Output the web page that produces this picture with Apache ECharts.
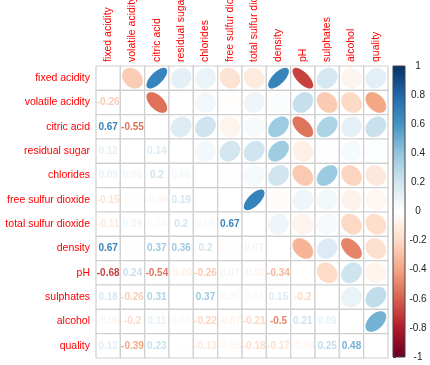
<!DOCTYPE html>
<html>
<head>
<meta charset="utf-8">
<script src="https://cdn.jsdelivr.net/npm/echarts@6/dist/echarts.min.js"></script>
<style>
  html, body { margin: 0; padding: 0; background: #fff; }
  #chart { width: 430px; height: 365px; }
</style>
</head>
<body>
<div id="chart"></div>
<script>
// variables of the red wine data set
const vars = ['fixed acidity', 'volatile acidity', 'citric acid', 'residual sugar', 'chlorides',
  'free sulfur dioxide', 'total sulfur dioxide', 'density', 'pH', 'sulphates', 'alcohol', 'quality']

// correlation matrix, one row per variable
const corr = [
  [1, -0.256, 0.672, 0.115, 0.094, -0.154, -0.113, 0.668, -0.683, 0.183, -0.062, 0.124],
  [-0.256, 1, -0.552, 0.002, 0.061, -0.011, 0.076, 0.022, 0.235, -0.261, -0.202, -0.391],
  [0.672, -0.552, 1, 0.144, 0.204, -0.061, 0.036, 0.365, -0.542, 0.313, 0.110, 0.226],
  [0.115, 0.002, 0.144, 1, 0.056, 0.187, 0.203, 0.3552, -0.086, 0.006, 0.042, 0.014],
  [0.094, 0.061, 0.204, 0.056, 1, 0.006, 0.047, 0.201, -0.265, 0.371, -0.221, -0.129],
  [-0.154, -0.011, -0.061, 0.187, 0.006, 1, 0.668, -0.022, 0.070, 0.052, -0.069, -0.051],
  [-0.113, 0.076, 0.036, 0.203, 0.047, 0.668, 1, 0.071, -0.066, 0.043, -0.206, -0.185],
  [0.668, 0.022, 0.365, 0.3552, 0.201, -0.022, 0.071, 1, -0.342, 0.149, -0.496, -0.175],
  [-0.683, 0.235, -0.542, -0.086, -0.265, 0.070, -0.066, -0.342, 1, -0.197, 0.206, -0.058],
  [0.183, -0.261, 0.313, 0.006, 0.371, 0.052, 0.043, 0.149, -0.197, 1, 0.094, 0.251],
  [-0.062, -0.202, 0.110, 0.042, -0.221, -0.069, -0.206, -0.496, 0.206, 0.094, 1, 0.476],
  [0.124, -0.391, 0.226, 0.014, -0.129, -0.051, -0.185, -0.175, -0.058, 0.251, 0.476, 1]
]

// RdBu palette, -1 .. 1
const palette = ['#67001F', '#B2182B', '#D6604D', '#F4A582', '#FDDBC7', '#FFFFFF',
  '#D1E5F0', '#92C5DE', '#4393C3', '#2166AC', '#053061']
const legendTicks = [-1, -0.8, -0.6, -0.4, -0.2, 0, 0.2, 0.4, 0.6, 0.8, 1]

function hex2rgb(h) {
  return [parseInt(h.slice(1, 3), 16), parseInt(h.slice(3, 5), 16), parseInt(h.slice(5, 7), 16)]
}
function colorOf(v) {
  const p = (v + 1) / 2 * (palette.length - 1)
  const i = Math.min(Math.floor(p), palette.length - 2)
  const t = p - i
  const a = hex2rgb(palette[i])
  const b = hex2rgb(palette[i + 1])
  const c = a.map((x, k) => Math.round(x + (b[k] - x) * t))
  return 'rgb(' + c.join(',') + ')'
}
function fmt(v) {
  return String(Math.round(v * 100) / 100)
}

const cells = []
corr.forEach((row, i) => {
  row.forEach((v, j) => {
    cells.push([j, i, v])
  })
})

const chart = echarts.init(document.getElementById('chart'))
const font = '"Liberation Sans", Arial, sans-serif'

chart.setOption({
  animation: false,
  grid: [
    { left: 96, top: 66, width: 292, height: 292, outerBoundsMode: 'none', containLabel: false },
    { left: 393, top: 66, width: 12, height: 291, outerBoundsMode: 'none', containLabel: false }
  ],
  xAxis: [
    {
      type: 'category',
      data: vars,
      position: 'top',
      axisLine: { show: false },
      axisTick: { show: false },
      splitLine: { show: false },
      axisLabel: {
        rotate: -90,
        interval: 0,
        margin: 4,
        color: '#ff0000',
        fontSize: 10.5,
        fontFamily: font
      }
    },
    { type: 'value', gridIndex: 1, min: 0, max: 1, show: false }
  ],
  yAxis: [
    {
      type: 'category',
      data: vars,
      inverse: true,
      axisLine: { show: false },
      axisTick: { show: false },
      splitLine: { show: false },
      axisLabel: {
        interval: 0,
        margin: 6,
        color: '#ff0000',
        fontSize: 10.5,
        fontFamily: font
      }
    },
    {
      type: 'value',
      gridIndex: 1,
      position: 'right',
      min: -1,
      max: 1,
      interval: 0.2,
      splitLine: { show: false },
      axisLine: { show: false },
      axisTick: { show: true, length: 3, lineStyle: { color: '#333' } },
      axisLabel: {
        align: 'center',
        margin: 13,
        color: '#222',
        fontSize: 10,
        fontFamily: font,
        formatter: v => fmt(v)
      }
    }
  ],
  series: [
    {
      type: 'custom',
      xAxisIndex: 0,
      yAxisIndex: 0,
      data: cells,
      renderItem: function(params, api) {
        const col = api.value(0)
        const row = api.value(1)
        const v = api.value(2)
        const c = api.coord([col, row])
        const s = api.size([1, 1])
        const children = [{
          type: 'rect',
          shape: { x: c[0] - s[0] / 2, y: c[1] - s[1] / 2, width: s[0], height: s[1] },
          style: { fill: '#fff', stroke: '#cfcfcf', lineWidth: 1.2 }
        }]
        if (col > row) {
          // ellipse, like corrplot
          const d = Math.acos(v)
          const pts = []
          for (let k = 0; k < 80; k++) {
            const t = k / 80 * Math.PI * 2
            pts.push([
              c[0] + Math.cos(t + d / 2) * 0.425 * s[0],
              c[1] - Math.cos(t - d / 2) * 0.425 * s[1]
            ])
          }
          children.push({
            type: 'polygon',
            shape: { points: pts },
            style: { fill: colorOf(v) }
          })
        } else if (col < row) {
          children.push({
            type: 'text',
            style: {
              x: c[0],
              y: c[1],
              text: fmt(v),
              align: 'center',
              verticalAlign: 'middle',
              fill: colorOf(v),
              font: 'bold 10px ' + font
            }
          })
        }
        return { type: 'group', children: children }
      }
    },
    {
      // color legend
      type: 'custom',
      xAxisIndex: 1,
      yAxisIndex: 1,
      data: [[0, legendTicks[0], legendTicks[legendTicks.length - 1]]],
      renderItem: function(params, api) {
        const p0 = api.coord([0, api.value(1)])
        const p1 = api.coord([1, api.value(2)])
        return {
          type: 'rect',
          shape: { x: p0[0], y: p1[1], width: p1[0] - p0[0], height: p0[1] - p1[1] },
          style: {
            stroke: '#444',
            lineWidth: 1,
            fill: new echarts.graphic.LinearGradient(0, 1, 0, 0,
              palette.map((col, k) => ({ offset: k / (palette.length - 1), color: col })))
          }
        }
      }
    }
  ]
})
</script>
</body>
</html>
